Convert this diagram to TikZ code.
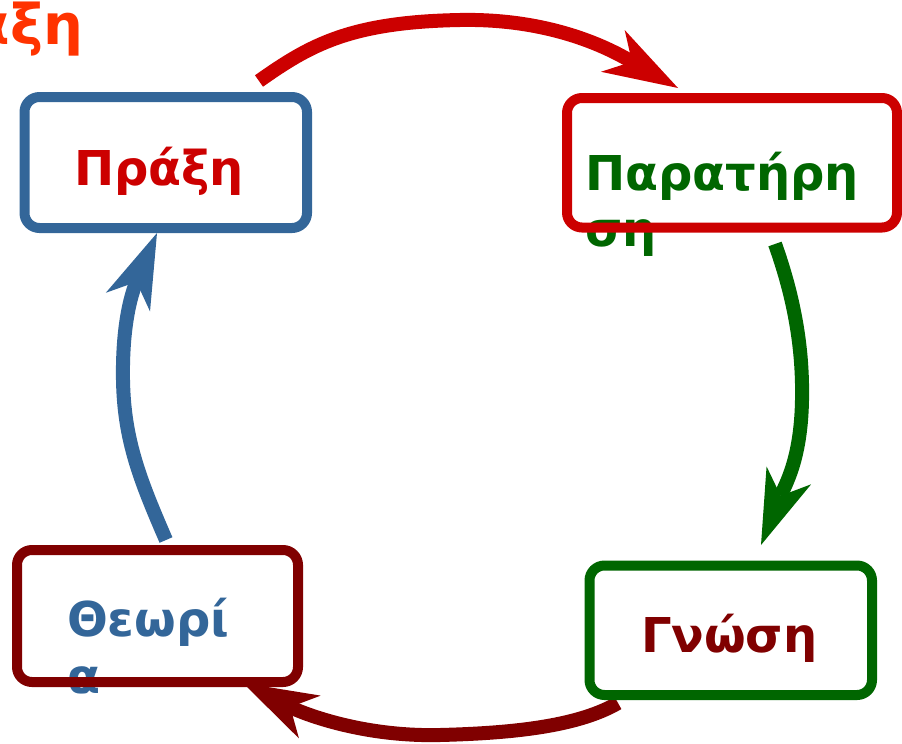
\documentclass[tikz,border=0pt]{standalone}
\usepackage{fontspec}
\setmainfont{DejaVu Sans}
\usetikzlibrary{arrows.meta}
\definecolor{cblue}{HTML}{336699}
\definecolor{cred}{HTML}{CC0000}
\definecolor{cgreen}{HTML}{006600}
\definecolor{cdark}{HTML}{800000}
\definecolor{corange}{HTML}{FF3300}
\tikzset{
  box/.style={draw, line width=10pt, rounded corners=15pt, inner sep=0pt, outer sep=0pt},
  lbl/.style={inner sep=0pt, outer sep=0pt, anchor=base west, font=\fontsize{48}{56}\selectfont\bfseries},
  cyc/.style={line width=14pt, -{Stealth[length=75pt, width=48pt, inset=22pt, line width=0pt]}},
}
\begin{document}
\begin{tikzpicture}[x=1pt,y=-1pt]
\useasboundingbox (0,0) rectangle (902,744);
\clip (0,0) rectangle (902,744);
% title fragment
\node[inner sep=0pt, anchor=base east, text=corange, font=\fontsize{56}{64}\selectfont\bfseries] (title) at (83.5,44) {Πράξη};
% arrow end points
\coordinate (r1) at (259,81);
\coordinate (r2) at (678,88);
\coordinate (g1) at (775,244);
\coordinate (g2) at (761,545);
\coordinate (d1) at (618,703);
\coordinate (d2) at (243,683);
\coordinate (b1) at (166,540);
\coordinate (b2) at (157,233);
% arrows
\draw[cyc, cred] (r1) .. controls (310,45) and (350,22) .. (460,20) .. controls (560,18) and (620,55) .. (r2);
\draw[cyc, cgreen] (g1) .. controls (795,300) and (803,350) .. (802,400) .. controls (801,460) and (785,485) .. (g2);
\draw[cyc, cdark] (d1) .. controls (580,725) and (520,733) .. (440,735) .. controls (360,737) and (300,712) .. (d2);
\draw[cyc, cblue] (b1) .. controls (140,480) and (124,440) .. (123,380) .. controls (122,320) and (133,290) .. (b2);
% texts
\node[lbl, text=cred] (tpraxi) at (74,185) {Πράξη};
\node[lbl, text=cgreen] (tparat1) at (585,190) {Παρατήρη};
\node[lbl, text=cgreen] (tparat2) at (585,246) {ση};
\node[lbl, text=cblue] (ttheo1) at (67,636) {Θεωρί};
\node[lbl, text=cblue] (ttheo2) at (67,693) {α};
\node[lbl, text=cdark] (tgnosi) at (641,652) {Γνώση};
% boxes
\node[box, draw=cblue, minimum width=282.5pt, minimum height=131pt] (praxi) at (165.75,162.5) {};
\node[box, draw=cred, minimum width=330pt, minimum height=129.5pt] (parat) at (732,162.75) {};
\node[box, draw=cdark, minimum width=281pt, minimum height=132pt] (theoria) at (157.5,616) {};
\node[box, draw=cgreen, minimum width=282.5pt, minimum height=129.5pt] (gnosi) at (730.75,630.25) {};
\end{tikzpicture}
\end{document}
